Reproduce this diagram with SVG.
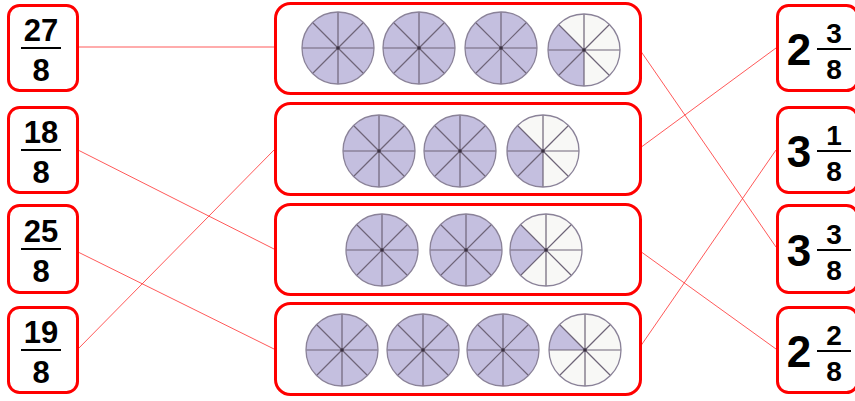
<svg xmlns="http://www.w3.org/2000/svg" xmlns:xlink="http://www.w3.org/1999/xlink" width="855" height="401" viewBox="0 0 855 401">
<style>
.box{fill:#fff;stroke:#ff0000;stroke-width:3}
.conn{stroke:#ff3030;stroke-width:1;fill:none;stroke-opacity:0.8}
.num{font-family:"Liberation Sans",Arial,sans-serif;font-weight:bold;fill:#000;text-anchor:middle}
.bar{stroke:#000;stroke-width:2}
.sh{fill:#c4bfdf}
.un{fill:#f8f8f6}
.rim{fill:none;stroke:#8a8298;stroke-width:1.3}
.div{stroke:#6e6478;stroke-width:1.2}
</style>
<defs>
<g id="spokes">
<line class="div" x1="-36" y1="0" x2="36" y2="0"/>
<line class="div" x1="0" y1="-36" x2="0" y2="36"/>
<line class="div" x1="-25.46" y1="-25.46" x2="25.46" y2="25.46"/>
<line class="div" x1="-25.46" y1="25.46" x2="25.46" y2="-25.46"/>
<circle r="1.8" fill="#3a3040"/>
</g>
<g id="full">
<circle class="sh" r="36"/>
<use xlink:href="#spokes"/>
<circle class="rim" r="36"/>
</g>
<g id="p3">
<circle class="un" r="36"/>
<path class="sh" d="M0,0 L0,36 A36,36 0 0,1 -25.46,-25.46 Z"/>
<use xlink:href="#spokes"/>
<circle class="rim" r="36"/>
</g>
<g id="p2">
<circle class="un" r="36"/>
<path class="sh" d="M0,0 L-25.46,25.46 A36,36 0 0,1 -25.46,-25.46 Z"/>
<use xlink:href="#spokes"/>
<circle class="rim" r="36"/>
</g>
<g id="p1">
<circle class="un" r="36"/>
<path class="sh" d="M0,0 L-36,0 A36,36 0 0,1 -25.46,-25.46 Z"/>
<use xlink:href="#spokes"/>
<circle class="rim" r="36"/>
</g>
</defs>

<g id="connectors">
<line class="conn" x1="78" y1="47" x2="275" y2="47"/>
<line class="conn" x1="640" y1="50" x2="776" y2="247"/>
<line class="conn" x1="78" y1="150" x2="274" y2="249"/>
<line class="conn" x1="78" y1="252" x2="274" y2="349"/>
<line class="conn" x1="78" y1="349" x2="274" y2="150"/>
<line class="conn" x1="640" y1="148" x2="776" y2="48"/>
<line class="conn" x1="640" y1="251" x2="776" y2="349"/>
<line class="conn" x1="640" y1="347" x2="776" y2="150"/>
</g>

<g id="left1">
<rect class="box" x="8.5" y="5.5" width="69" height="85" rx="11"/>
<text class="num" x="41" y="41" font-size="31">27</text>
<line class="bar" x1="21" y1="48" x2="61" y2="48"/>
<text class="num" x="41" y="81" font-size="31">8</text>
</g>
<g id="left2">
<rect class="box" x="8.5" y="107.5" width="69" height="85" rx="11"/>
<text class="num" x="41" y="143" font-size="31">18</text>
<line class="bar" x1="21" y1="150" x2="61" y2="150"/>
<text class="num" x="41" y="183" font-size="31">8</text>
</g>
<g id="left3">
<rect class="box" x="8.5" y="205.5" width="69" height="87" rx="11"/>
<text class="num" x="41" y="242" font-size="31">25</text>
<line class="bar" x1="21" y1="249" x2="61" y2="249"/>
<text class="num" x="41" y="282" font-size="31">8</text>
</g>
<g id="left4">
<rect class="box" x="8.5" y="307.5" width="69" height="85" rx="11"/>
<text class="num" x="41" y="343" font-size="31">19</text>
<line class="bar" x1="21" y1="350" x2="61" y2="350"/>
<text class="num" x="41" y="383" font-size="31">8</text>
</g>

<g id="mid1">
<rect class="box" x="275.5" y="3.5" width="365" height="90" rx="15"/>
<use xlink:href="#full" x="338" y="48"/>
<use xlink:href="#full" x="419" y="48"/>
<use xlink:href="#full" x="501" y="48"/>
<use xlink:href="#p3" x="584" y="50"/>
</g>
<g id="mid2">
<rect class="box" x="275.5" y="103.5" width="365" height="91" rx="15"/>
<use xlink:href="#full" x="379" y="151"/>
<use xlink:href="#full" x="460" y="151"/>
<use xlink:href="#p3" x="543" y="151"/>
</g>
<g id="mid3">
<rect class="box" x="275.5" y="204.5" width="365" height="90" rx="15"/>
<use xlink:href="#full" x="382" y="250"/>
<use xlink:href="#full" x="466" y="250"/>
<use xlink:href="#p2" x="546" y="250"/>
</g>
<g id="mid4">
<rect class="box" x="275.5" y="303.5" width="365" height="91" rx="15"/>
<use xlink:href="#full" x="342" y="350"/>
<use xlink:href="#full" x="423" y="350"/>
<use xlink:href="#full" x="503" y="350"/>
<use xlink:href="#p1" x="585" y="350"/>
</g>

<g id="right1">
<rect class="box" x="777.5" y="5.5" width="80" height="85" rx="11"/>
<text class="num" x="799" y="65" font-size="44">2</text>
<text class="num" x="834" y="43" font-size="28">3</text>
<line class="bar" x1="817" y1="49" x2="851" y2="49"/>
<text class="num" x="834" y="79" font-size="28">8</text>
</g>
<g id="right2">
<rect class="box" x="777.5" y="107.5" width="80" height="85" rx="11"/>
<text class="num" x="799" y="167" font-size="44">3</text>
<text class="num" x="834" y="145" font-size="28">1</text>
<line class="bar" x1="817" y1="151" x2="851" y2="151"/>
<text class="num" x="834" y="181" font-size="28">8</text>
</g>
<g id="right3">
<rect class="box" x="777.5" y="205.5" width="80" height="87" rx="11"/>
<text class="num" x="799" y="266" font-size="44">3</text>
<text class="num" x="834" y="244" font-size="28">3</text>
<line class="bar" x1="817" y1="250" x2="851" y2="250"/>
<text class="num" x="834" y="280" font-size="28">8</text>
</g>
<g id="right4">
<rect class="box" x="777.5" y="307.5" width="80" height="85" rx="11"/>
<text class="num" x="799" y="367" font-size="44">2</text>
<text class="num" x="834" y="345" font-size="28">2</text>
<line class="bar" x1="817" y1="351" x2="851" y2="351"/>
<text class="num" x="834" y="381" font-size="28">8</text>
</g>
</svg>
